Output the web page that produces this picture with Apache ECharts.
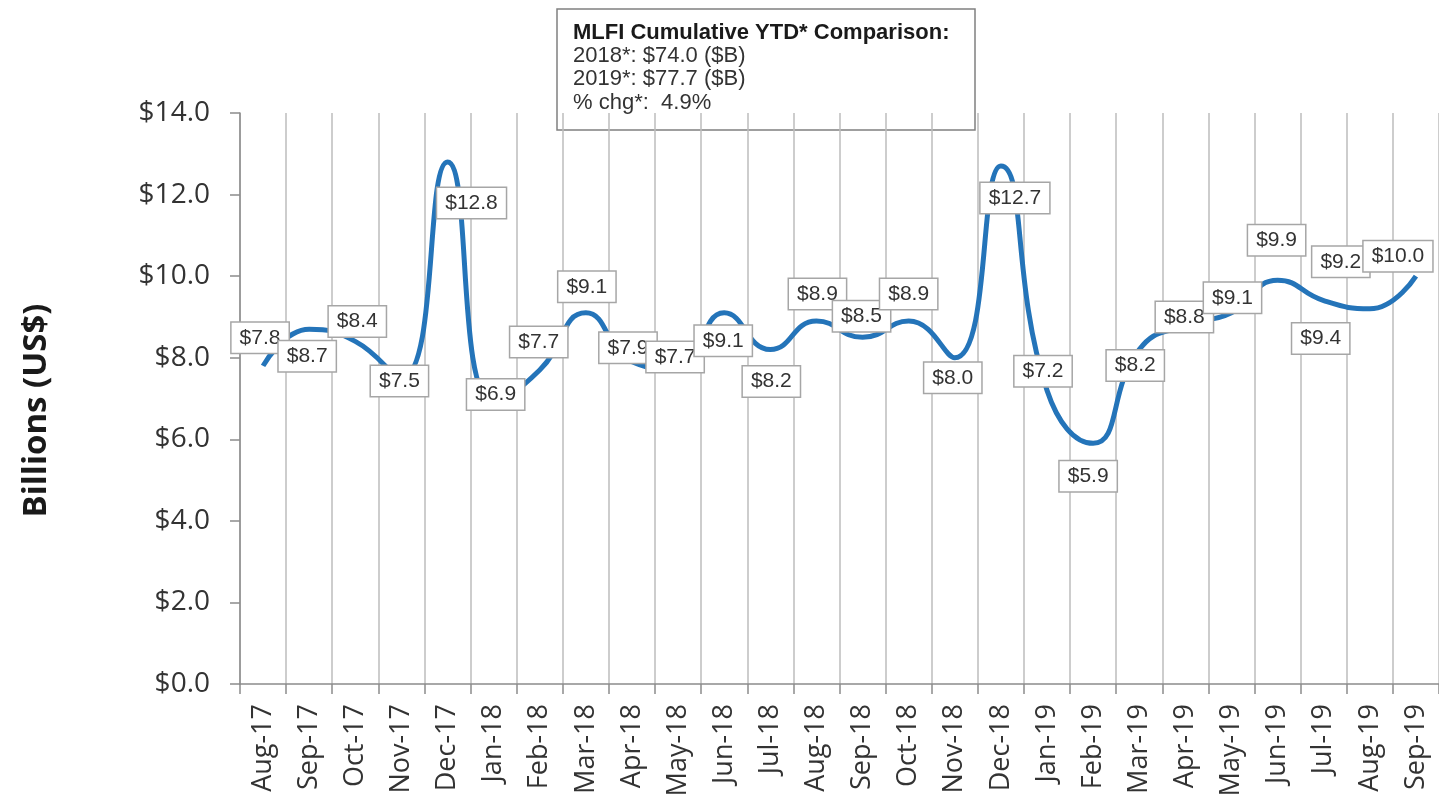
<!DOCTYPE html>
<html>
<head>
<meta charset="utf-8">
<script src="https://cdn.jsdelivr.net/npm/echarts@6/dist/echarts.min.js"></script>
<style>html,body{margin:0;padding:0;background:#fff}#chart{width:1439px;height:801px}</style>
</head>
<body>
<div id="chart"></div>
<script>
var categories = ['Aug-17','Sep-17','Oct-17','Nov-17','Dec-17','Jan-18','Feb-18','Mar-18','Apr-18','May-18','Jun-18','Jul-18','Aug-18','Sep-18','Oct-18','Nov-18','Dec-18','Jan-19','Feb-19','Mar-19','Apr-19','May-19','Jun-19','Jul-19','Aug-19','Sep-19'];
var values = [7.8, 8.7, 8.4, 7.5, 12.8, 6.9, 7.7, 9.1, 7.9, 7.7, 9.1, 8.2, 8.9, 8.5, 8.9, 8.0, 12.7, 7.2, 5.9, 8.2, 8.8, 9.1, 9.9, 9.4, 9.2, 10.0];
var yTicks = { min: 0, max: 14, interval: 2 };
var boxLines = ['MLFI Cumulative YTD* Comparison:', '2018*: $74.0 ($B)', '2019*: $77.7 ($B)', '% chg*:  4.9%'];
var axisTitle = 'Billions (US$)';
// label placement offsets (pixels) relative to each point
var labelOffsets = [[-3,-28],[-2,27],[2,-20],[-2,3],[24,41],[2,-8],[-1,-28],[1,-26],[-4,-14],[-3,-13],[-1,28],[1,32],[1,-27],[-1,-21],[0,-27],[-2,20],[14,32],[-4,-19],[-5,33],[-4,16],[-1,-8],[1,-15],[-1,-40],[-3,38],[-29,-47],[-18,-20]];

var seriesData = values.map(function (v, i) {
  return { value: v, label: { offset: labelOffsets[i] } };
});

var chart = echarts.init(document.getElementById('chart'));
chart.setOption({
  animation: false,
  grid: { left: 240, top: 113, width: 1203, height: 571 },
  xAxis: {
    type: 'category',
    data: categories,
    boundaryGap: true,
    axisLine: { show: true, lineStyle: { color: '#8c8c8c', width: 1.5 } },
    axisTick: { show: true, alignWithLabel: false, length: 10, lineStyle: { color: '#8c8c8c', width: 1.5 } },
    splitLine: { show: true, lineStyle: { color: '#bdbdbd', width: 1.5 } },
    axisLabel: { rotate: 90, margin: 20, fontSize: 27, color: '#333333', fontFamily: 'Open Sans', interval: 0 }
  },
  yAxis: {
    type: 'value',
    min: yTicks.min, max: yTicks.max, interval: yTicks.interval,
    name: axisTitle,
    nameLocation: 'middle',
    nameGap: 187,
    nameRotate: 90,
    nameTextStyle: { fontSize: 33, fontWeight: 'bold', color: '#1a1a1a', fontFamily: 'Open Sans', padding: [0, 24, 0, 0] },
    axisLine: { show: true, lineStyle: { color: '#8c8c8c', width: 1.5 } },
    axisTick: { show: true, length: 10, lineStyle: { color: '#8c8c8c', width: 1.5 } },
    splitLine: { show: false },
    axisLabel: {
      margin: 30, fontSize: 28, color: '#333333', fontFamily: 'Open Sans',
      formatter: function (v) { return '$' + v.toFixed(1); }
    }
  },
  series: [{
    type: 'line',
    data: seriesData,
    smooth: 0.5,
    symbol: 'circle',
    symbolSize: 1,
    showSymbol: true,
    itemStyle: { color: 'rgba(0,0,0,0)' },
    lineStyle: { color: '#2474b9', width: 5 },
    label: {
      show: true,
      position: 'inside',
      formatter: function (p) { return '$' + p.value.toFixed(1); },
      fontFamily: 'Liberation Sans',
      fontSize: 21,
      color: '#333333',
      backgroundColor: '#ffffff',
      borderColor: '#a6a6a6',
      borderWidth: 1.5,
      padding: [5, 8, 4, 8]
    },
    z: 3
  }],
  graphic: [{
    type: 'group',
    z: 100,
    children: [{
      type: 'rect',
      shape: { x: 557, y: 9, width: 418, height: 121 },
      style: { fill: '#ffffff', stroke: '#808080', lineWidth: 1.5 }
    }, {
      type: 'text',
      x: 573, y: 33,
      style: { text: boxLines[0], font: 'bold 22px "Liberation Sans"', fill: '#1a1a1a', verticalAlign: 'middle' }
    }, {
      type: 'text',
      x: 573, y: 56,
      style: { text: boxLines[1], font: '22px "Liberation Sans"', fill: '#333333', verticalAlign: 'middle' }
    }, {
      type: 'text',
      x: 573, y: 79,
      style: { text: boxLines[2], font: '22px "Liberation Sans"', fill: '#333333', verticalAlign: 'middle' }
    }, {
      type: 'text',
      x: 573, y: 103,
      style: { text: boxLines[3], font: '22px "Liberation Sans"', fill: '#333333', verticalAlign: 'middle' }
    }]
  }]
});
</script>
</body>
</html>
